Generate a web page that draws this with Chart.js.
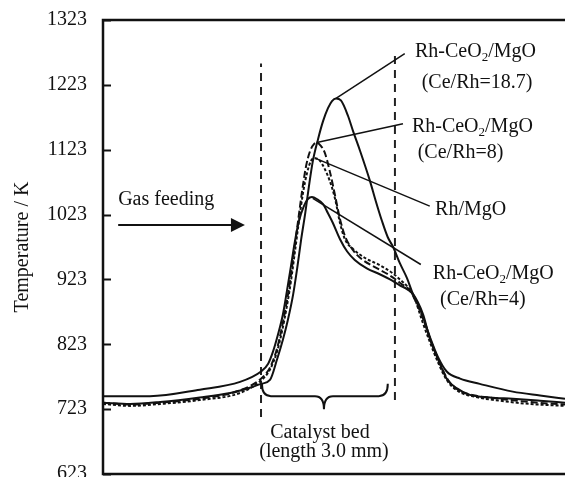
<!DOCTYPE html>
<html><head><meta charset="utf-8">
<script src="https://cdn.jsdelivr.net/npm/chart.js@4/dist/chart.umd.min.js"></script>
<style>html,body{margin:0;padding:0;background:#fff}canvas{display:block}</style>
</head><body>
<canvas id="c" width="565" height="477"></canvas>
<script>
// ---- data (position along reactor in mm, catalyst bed from 0 to 3.0 mm; temperature in K)
const yTicks = [623, 723, 823, 923, 1023, 1123, 1223, 1323];

const posA  = [-3.54,-2.93,-2.26,-1.37,-0.69,-0.25,0,0.20,0.36,0.49,0.60,0.72,0.81,0.90,0.99,1.07,1.16,1.28,1.39,1.50,1.59,1.68,1.79,1.95,2.06,2.22,2.44,2.57,2.71,2.84,2.96,3.11,3.27,3.40,3.56,3.78,3.96,4.16,4.46,4.90,5.64,6.25,6.81];
const tempA = [733,731,734,741,748,756,762,768,800,830,860,900,940,985,1025,1065,1105,1140,1167,1187,1198,1202,1199,1175,1152,1121,1075,1044,1013,988,973,948,925,901,878,835,804,781,770,762,750,744,739];

const posB  = [-3.54,-2.49,-1.37,-0.47,0,0.16,0.27,0.38,0.49,0.58,0.67,0.76,0.85,0.96,1.05,1.14,1.25,1.39,1.50,1.61,1.77,1.93,2.10,2.37,2.66,2.89,3.11,3.27,3.40,3.63,3.78,3.96,4.16,4.39,4.68,5.13,5.64,6.25,6.81];
const tempB = [743,743,753,765,781,793,812,838,869,905,943,982,1013,1036,1047,1050,1047,1039,1025,1010,985,966,953,940,931,923,914,908,901,869,832,801,770,755,745,741,739,736,733];

const posC  = [-3.54,-2.93,-2.26,-1.37,-0.47,0,0.20,0.34,0.45,0.56,0.65,0.74,0.83,0.92,1.01,1.10,1.19,1.25,1.34,1.43,1.54,1.66,1.77,1.88,2.04,2.26,2.55,2.89,3.11,3.34,3.52,3.67,3.83,4.01,4.19,4.41,4.79,5.35,6.02,6.81];
const tempC = [733,730,733,739,752,770,787,812,843,882,920,966,1013,1059,1098,1121,1132,1134,1129,1118,1090,1052,1016,990,970,954,942,929,918,905,881,855,824,793,768,753,744,739,734,730];

const posD  = [-3.54,-2.93,-2.26,-1.37,-0.47,0,0.20,0.36,0.47,0.58,0.67,0.76,0.85,0.94,1.03,1.12,1.21,1.32,1.43,1.54,1.66,1.77,1.88,2.06,2.33,2.66,2.96,3.11,3.29,3.45,3.60,3.78,3.96,4.16,4.41,4.79,5.35,6.02,6.81];
const tempD = [731,728,731,737,748,767,784,812,843,882,920,966,1013,1056,1087,1106,1110,1106,1093,1075,1047,1010,985,970,956,945,932,923,911,892,861,827,796,768,751,742,736,731,728];

const seriesNames = ['Rh-CeO2/MgO (Ce/Rh=18.7)', 'Rh-CeO2/MgO (Ce/Rh=4)', 'Rh-CeO2/MgO (Ce/Rh=8)', 'Rh/MgO'];
const bedEdges = [0, 3.0];          // catalyst bed boundaries (mm)
const bedLineLow  = [711, 737];     // lower end of the dashed boundary lines (K)
const bedLineHigh = [1256, 1271];   // upper end of the dashed boundary lines (K)

// ---- helpers
const FONT = '"Liberation Serif", "Times New Roman", serif';
const pts = (xs, ys) => xs.map((x, i) => ({x, y: ys[i]}));

const curveStyle = {
  A: {dash: []},
  B: {dash: []},
  C: {dash: [7, 3]},
  D: {dash: [3, 2]}
};

function lineSet(label, xs, ys, dash) {
  return {label, data: pts(xs, ys), borderColor: '#111', borderWidth: 2, borderDash: dash,
          pointRadius: 0, cubicInterpolationMode: 'monotone', fill: false};
}

const datasets = [
  lineSet(seriesNames[0], posA, tempA, curveStyle.A.dash),
  lineSet(seriesNames[1], posB, tempB, curveStyle.B.dash),
  lineSet(seriesNames[2], posC, tempC, curveStyle.C.dash),
  lineSet(seriesNames[3], posD, tempD, curveStyle.D.dash)
];
bedEdges.forEach((x, i) => {
  datasets.push({label: 'bed' + i, data: [{x, y: bedLineLow[i]}, {x, y: bedLineHigh[i]}],
    borderColor: '#222', borderWidth: 2, borderDash: [8, 6], pointRadius: 0, tension: 0});
});

// annotation layout (data coordinates)
const labels = [
  {lines: ['Rh-CeO2/MgO', '(Ce/Rh=18.7)'], lx: [3.45, 3.60], ly: [1274, 1226], from: [1.68, 1202], to: [3.22, 1271]},
  {lines: ['Rh-CeO2/MgO', '(Ce/Rh=8)'],    lx: [3.38, 3.51], ly: [1158, 1119], from: [1.25, 1134], to: [3.18, 1163]},
  {lines: ['Rh/MgO'],                       lx: [3.90],       ly: [1030],       from: [1.21, 1110], to: [3.78, 1036]},
  {lines: ['Rh-CeO2/MgO', '(Ce/Rh=4)'],    lx: [3.85, 4.01], ly: [932, 892],   from: [1.16, 1048], to: [3.58, 946]}
];

function drawChem(ctx, str, x, y, size) {
  const parts = str.split(/(CeO)2/);
  let cx = x;
  ctx.textAlign = 'left';
  ctx.textBaseline = 'middle';
  for (let i = 0; i < parts.length; i++) {
    let seg = parts[i];
    if (seg === 'CeO') {
      ctx.font = size + 'px ' + FONT;
      ctx.fillText(seg, cx, y); cx += ctx.measureText(seg).width;
      ctx.font = Math.round(size * 0.65) + 'px ' + FONT;
      ctx.fillText('2', cx, y + size * 0.3); cx += ctx.measureText('2').width;
      continue;
    }
    ctx.font = size + 'px ' + FONT;
    ctx.fillText(seg, cx, y); cx += ctx.measureText(seg).width;
  }
}

const decor = {
  id: 'decor',
  afterDraw(chart) {
    const {ctx, chartArea: a, scales: {x, y}} = chart;
    const X = v => x.getPixelForValue(v), Y = v => y.getPixelForValue(v);
    ctx.save();
    ctx.strokeStyle = '#111'; ctx.fillStyle = '#111';
    // frame
    ctx.lineWidth = 2.5;
    ctx.beginPath();
    ctx.moveTo(a.right, a.top); ctx.lineTo(a.left, a.top); ctx.lineTo(a.left, a.bottom); ctx.lineTo(a.right, a.bottom);
    ctx.stroke();
    // inward ticks
    ctx.lineWidth = 2;
    yTicks.forEach(v => { const py = Math.round(Y(v)) + 0.5; ctx.beginPath(); ctx.moveTo(a.left, py); ctx.lineTo(a.left + 8, py); ctx.stroke(); });
    // axis title
    ctx.save();
    ctx.translate(23, (a.top + a.bottom) / 2);
    ctx.rotate(-Math.PI / 2);
    ctx.font = '20px ' + FONT; ctx.textAlign = 'center'; ctx.textBaseline = 'middle';
    ctx.fillText('Temperature / K', 0, 0);
    ctx.restore();
    // series labels + leaders
    ctx.lineWidth = 1.5;
    labels.forEach(L => {
      ctx.beginPath(); ctx.moveTo(X(L.from[0]), Y(L.from[1])); ctx.lineTo(X(L.to[0]), Y(L.to[1])); ctx.stroke();
      L.lines.forEach((t, i) => drawChem(ctx, t, X(L.lx[i]), Y(L.ly[i]), 20));
    });
    // gas feeding arrow
    ctx.font = '20px ' + FONT; ctx.textAlign = 'left'; ctx.textBaseline = 'middle';
    ctx.fillText('Gas feeding', X(-3.20), Y(1046));
    const ay = Y(1007), ax0 = X(-3.20), ax1 = X(-0.36);
    ctx.lineWidth = 2;
    ctx.beginPath(); ctx.moveTo(ax0, ay); ctx.lineTo(ax1 - 10, ay); ctx.stroke();
    ctx.beginPath(); ctx.moveTo(ax1, ay); ctx.lineTo(ax1 - 14, ay - 7); ctx.lineTo(ax1 - 14, ay + 7); ctx.closePath(); ctx.fill();
    // brace under catalyst bed
    const bx0 = X(0.02), bx1 = X(2.84), bxm = X(1.41);
    const byTop = Y(762), byMid = Y(743), byTip = Y(723);
    const r = 9;
    ctx.lineWidth = 2;
    ctx.beginPath();
    ctx.moveTo(bx0, byTop);
    ctx.quadraticCurveTo(bx0, byMid, bx0 + r, byMid);
    ctx.lineTo(bxm - r, byMid);
    ctx.quadraticCurveTo(bxm, byMid, bxm, byTip);
    ctx.quadraticCurveTo(bxm, byMid, bxm + r, byMid);
    ctx.lineTo(bx1 - r, byMid);
    ctx.quadraticCurveTo(bx1, byMid, bx1, byTop);
    ctx.stroke();
    ctx.textAlign = 'center';
    ctx.fillText('Catalyst bed', X(1.32), Y(686));
    ctx.fillText('(length 3.0 mm)', X(1.41), Y(657));
    ctx.restore();
  }
};

new Chart(document.getElementById('c'), {
  type: 'line',
  data: {datasets},
  options: {
    responsive: false,
    animation: false,
    layout: {padding: {top: 20, right: 0, bottom: 3, left: 0}},
    plugins: {legend: {display: false}, tooltip: {enabled: false}},
    scales: {
      x: {type: 'linear', min: -3.54, max: 6.81, display: false},
      y: {
        type: 'linear', min: 623, max: 1323,
        afterBuildTicks: s => { s.ticks = yTicks.map(v => ({value: v})); },
        afterFit: s => { s.width = 103; s.paddingTop = 0; s.paddingBottom = 0; },
        grid: {display: false, drawTicks: false},
        border: {display: false},
        ticks: {padding: 16, color: '#111', font: {family: FONT, size: 20}, callback: v => String(v)}
      }
    }
  },
  plugins: [decor]
});
</script>
</body></html>
